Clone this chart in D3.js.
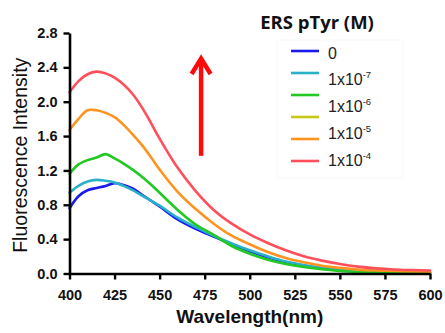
<!DOCTYPE html>
<html>
<head>
<meta charset="utf-8">
<script src="https://cdn.jsdelivr.net/npm/d3@7"></script>
<style>
  html, body { margin: 0; padding: 0; background: #fff; }
  svg { display: block; }
</style>
</head>
<body>
<svg id="chart" width="445" height="333"></svg>
<script>
// Emission wavelengths (nm)
const wavelength = [400, 405, 410, 415, 420, 425, 430, 435, 440, 445, 450, 460, 470, 480, 490, 500, 510, 520, 530, 540, 550, 560, 570, 580, 590, 600];

// Fluorescence intensity for each ERS pTyr concentration
const conc0    = [0.76, 0.90, 0.97, 0.995, 1.02, 1.05, 1.03, 0.99, 0.92, 0.85, 0.78, 0.63, 0.52, 0.43, 0.34, 0.26, 0.19, 0.13, 0.09, 0.06, 0.045, 0.03, 0.02, 0.015, 0.01, 0.01];
const conc1e7  = [0.94, 1.02, 1.07, 1.09, 1.08, 1.06, 1.02, 0.97, 0.91, 0.85, 0.79, 0.65, 0.54, 0.44, 0.35, 0.27, 0.20, 0.14, 0.10, 0.07, 0.05, 0.035, 0.025, 0.02, 0.015, 0.01];
const conc1e6  = [1.16, 1.27, 1.32, 1.35, 1.39, 1.34, 1.28, 1.21, 1.13, 1.04, 0.94, 0.74, 0.57, 0.45, 0.32, 0.23, 0.16, 0.11, 0.075, 0.05, 0.03, 0.02, 0.015, 0.01, 0.01, 0.01];
const conc1e5  = [1.67, 1.80, 1.90, 1.90, 1.87, 1.82, 1.73, 1.62, 1.50, 1.36, 1.21, 0.95, 0.75, 0.58, 0.44, 0.34, 0.25, 0.18, 0.13, 0.09, 0.065, 0.045, 0.035, 0.03, 0.025, 0.02];
const conc1e4  = [2.11, 2.24, 2.32, 2.35, 2.33, 2.28, 2.20, 2.09, 1.94, 1.76, 1.57, 1.23, 0.96, 0.74, 0.58, 0.455, 0.355, 0.27, 0.20, 0.15, 0.11, 0.08, 0.06, 0.047, 0.04, 0.035];

const seriesValues = [conc0, conc1e7, conc1e6, conc1e5, conc1e4];
const seriesColors = ["#1a1aee", "#2ab0c8", "#22c922", "#ff9320", "#ff4f5a"];

// Legend content
const legendTitle = "ERS pTyr (M)";
const legendSwatches = ["#1a1aee", "#2ab0c8", "#22c922", "#c8c81a", "#ff9320", "#ff4f5a"];
const legendLabels = [
  { base: "0", exp: "" },
  { base: "1x10", exp: "-7" },
  { base: "1x10", exp: "-6" },
  { base: "1x10", exp: "-5" },
  { base: "1x10", exp: "-4" }
];

// Axis ticks
const xTicks = [400, 425, 450, 475, 500, 525, 550, 575, 600];
const yTicks = [0.0, 0.4, 0.8, 1.2, 1.6, 2.0, 2.4, 2.8];

// Trend arrow (data units)
const arrowWavelength = 473;
const arrowRange = [1.37, 2.52];

const svg = d3.select("#chart");
const margin = { left: 69.5, right: 15, top: 33, bottom: 59.5 };
const W = 445, H = 333;

const x = d3.scaleLinear().domain([400, 600]).range([margin.left, W - margin.right]);
const y = d3.scaleLinear().domain([0, 2.8]).range([H - margin.bottom, margin.top]);

// Curves
const line = d3.line()
  .x((d, i) => x(wavelength[i]))
  .y(d => y(d))
  .curve(d3.curveCatmullRom.alpha(0.5));

svg.append("g")
  .selectAll("path")
  .data(seriesValues)
  .join("path")
  .attr("d", d => line(d))
  .attr("fill", "none")
  .attr("stroke", (d, i) => seriesColors[i])
  .attr("stroke-width", 2.6)
  .attr("stroke-linejoin", "round")
  .attr("stroke-linecap", "round");

// Axes
const xAxis = svg.append("g")
  .attr("transform", `translate(0,${y(0)})`)
  .call(d3.axisBottom(x).tickValues(xTicks).tickSize(6).tickSizeOuter(0).tickPadding(10));

const yAxis = svg.append("g")
  .attr("transform", `translate(${x(400)},0)`)
  .call(d3.axisLeft(y).tickValues(yTicks).tickFormat(d3.format(".1f")).tickSize(6).tickSizeOuter(0).tickPadding(6));

[xAxis, yAxis].forEach(g => {
  g.select(".domain").attr("stroke", "#000").attr("stroke-width", 2.6);
  g.selectAll(".tick line").attr("stroke", "#000").attr("stroke-width", 2.4);
  g.selectAll(".tick text")
    .attr("fill", "#111")
    .style("font-family", "'Liberation Sans', Arial, sans-serif")
    .style("font-weight", "bold")
    .style("font-size", "14.5px");
});

// Axis titles
svg.append("text")
  .attr("x", (x(400) + x(600)) / 2)
  .attr("y", 323)
  .attr("text-anchor", "middle")
  .style("font-family", "'Liberation Sans', Arial, sans-serif")
  .style("font-weight", "bold")
  .style("font-size", "19px")
  .attr("fill", "#111")
  .text("Wavelength(nm)");

svg.append("text")
  .attr("transform", `translate(27,${(y(0) + y(2.8)) / 2 + 2}) rotate(-90)`)
  .attr("text-anchor", "middle")
  .style("font-family", "'Liberation Sans', Arial, sans-serif")
  .style("font-size", "19.5px")
  .attr("fill", "#111")
  .text("Fluorescence Intensity");

// Trend arrow
const ax = x(arrowWavelength);
const yTip = y(arrowRange[1]);
const yBase = y(arrowRange[0]);
svg.append("line")
  .attr("x1", ax).attr("x2", ax)
  .attr("y1", yBase).attr("y2", yTip + 3)
  .attr("stroke", "#ff0a0a")
  .attr("stroke-width", 4.5);
svg.append("path")
  .attr("d", `M${ax - 9.5},${yTip + 17} L${ax},${yTip + 1.5} L${ax + 9.5},${yTip + 17}`)
  .attr("fill", "none")
  .attr("stroke", "#ff0a0a")
  .attr("stroke-width", 4.5)
  .attr("stroke-linejoin", "miter");

// Legend
const legend = svg.append("g");
legend.append("rect")
  .attr("x", 277).attr("y", 40).attr("width", 126).attr("height", 138)
  .attr("fill", "none")
  .attr("stroke", "#f7f7f7")
  .attr("stroke-width", 1);

legend.append("text")
  .attr("x", 317)
  .attr("y", 28.5)
  .attr("text-anchor", "middle")
  .style("font-family", "'Open Sans', 'Liberation Sans', sans-serif")
  .style("font-weight", "bold")
  .style("font-size", "18.5px")
  .attr("fill", "#111")
  .text(legendTitle);

legend.selectAll("line.swatch")
  .data(legendSwatches)
  .join("line")
  .attr("class", "swatch")
  .attr("x1", 291).attr("x2", 319)
  .attr("y1", (d, i) => 51 + i * 22)
  .attr("y2", (d, i) => 51 + i * 22)
  .attr("stroke", d => d)
  .attr("stroke-width", 2.6);

const labels = legend.selectAll("text.lab")
  .data(legendLabels)
  .join("text")
  .attr("class", "lab")
  .attr("x", 328)
  .attr("y", (d, i) => 58.5 + i * 26.9)
  .style("font-family", "'Liberation Sans', Arial, sans-serif")
  .style("font-size", "16px")
  .attr("fill", "#222");
labels.append("tspan").text(d => d.base);
labels.filter(d => d.exp).append("tspan")
  .attr("dy", -7)
  .style("font-size", "9.5px")
  .text(d => d.exp);
</script>
</body>
</html>
